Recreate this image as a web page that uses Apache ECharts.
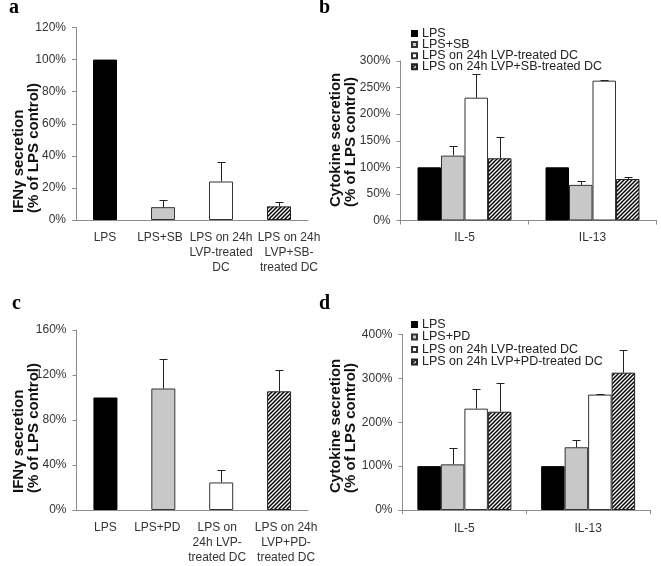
<!DOCTYPE html>
<html>
<head>
<meta charset="utf-8">
<script src="https://cdn.jsdelivr.net/npm/echarts@6/dist/echarts.min.js"></script>
<style>
html,body{margin:0;padding:0;background:#fff;}
#chart{width:661px;height:566px;}
</style>
</head>
<body>
<div id="chart"></div>
<script>
// ---------- data ----------
const catsA = ['LPS', 'LPS+SB', 'LPS on 24h\nLVP-treated\nDC', 'LPS on 24h\nLVP+SB-\ntreated DC'];
const valsA = [100, 8, 24, 8.5];
const errA  = [0, 4.2, 12, 2.5];
const yTicksA = [0, 20, 40, 60, 80, 100, 120];

const catsC = ['LPS', 'LPS+PD', 'LPS on\n24h LVP-\ntreated DC', 'LPS on 24h\nLVP+PD-\ntreated DC'];
const valsC = [100, 108, 24.5, 105.5];
const errC  = [0, 26.5, 11.5, 19];
const yTicksC = [0, 40, 80, 120, 160];

const cytokines = ['IL-5', 'IL-13'];

const namesB = ['LPS', 'LPS+SB', 'LPS on 24h LVP-treated DC', 'LPS on 24h LVP+SB-treated DC'];
const bLps   = [100, 100];
const bSb    = [122, 67];
const bLvp   = [231, 263];
const bLvpSb = [117, 78];
const bLpsErr   = [0, 0];
const bSbErr    = [17.5, 6.5];
const bLvpErr   = [45, 1.5];
const bLvpSbErr = [39.5, 4.5];
const yTicksB = [0, 50, 100, 150, 200, 250, 300];

const namesD = ['LPS', 'LPS+PD', 'LPS on 24h LVP-treated DC', 'LPS on 24h LVP+PD-treated DC'];
const dLps   = [100, 100];
const dPd    = [104, 143];
const dLvp   = [231, 263];
const dLvpPd = [224, 313];
const dLpsErr   = [0, 0];
const dPdErr    = [37, 16];
const dLvpErr   = [45, 1.5];
const dLvpPdErr = [65, 52];
const yTicksD = [0, 100, 200, 300, 400];

// ---------- styles ----------
const FONT = 'Liberation Sans';
const AXIS_COLOR = '#8c8c8c';
const TEXT_COLOR = '#333';

function hatchCanvas() {
  const c = document.createElement('canvas');
  c.width = 4; c.height = 4;
  const g = c.getContext('2d');
  g.fillStyle = '#fff'; g.fillRect(0, 0, 4, 4);
  g.strokeStyle = '#000'; g.lineWidth = 1.5;
  g.beginPath();
  g.moveTo(0, 4); g.lineTo(4, 0);
  g.moveTo(-1, 1); g.lineTo(1, -1);
  g.moveTo(3, 5); g.lineTo(5, 3);
  g.stroke();
  return c;
}
const HATCH = { image: hatchCanvas(), repeat: 'repeat' };
const FILLS = ['#000', '#c8c8c8', '#fff', HATCH];
const BORDERS = ['#000', '#333', '#333', '#222'];

function yAx(idx, ticks) {
  return {
    type: 'value', gridIndex: idx,
    min: ticks[0], max: ticks[ticks.length - 1], interval: ticks[1] - ticks[0],
    axisLine: { show: true, lineStyle: { color: AXIS_COLOR, width: 1 } },
    axisTick: { show: true, length: 4, lineStyle: { color: AXIS_COLOR } },
    splitLine: { show: false },
    axisLabel: { formatter: '{value}%', fontFamily: FONT, fontSize: 12, color: TEXT_COLOR, margin: 10 }
  };
}
function shiftPad(d) { return d >= 0 ? [0, 0, 0, 2 * d] : [0, -2 * d, 0, 0]; }
function xAx(idx, cats, shifts, ticks, margin) {
  return {
    type: 'category', gridIndex: idx,
    data: cats.map((c, i) => shifts ? ({ value: c, textStyle: { padding: shiftPad(shifts[i]) } }) : c),
    axisLine: { show: true, lineStyle: { color: AXIS_COLOR, width: 1 } },
    axisTick: { show: ticks, length: 4, lineStyle: { color: AXIS_COLOR } },
    axisLabel: { interval: 0, fontFamily: FONT, fontSize: 12, color: TEXT_COLOR, margin: margin, lineHeight: 15 }
  };
}

function errSeries(idx, vals, errs, offset) {
  return {
    type: 'custom', xAxisIndex: idx, yAxisIndex: idx, z: 5, silent: true,
    encode: { x: 0, y: [1, 2] },
    data: vals.map((v, i) => [i, v, v + errs[i]]),
    renderItem: function (params, api) {
      const v = api.value(1), t = api.value(2);
      if (!(t > v)) return null;
      const p0 = api.coord([api.value(0), v]);
      const p1 = api.coord([api.value(0), t]);
      const x = Math.round(p0[0] + offset) + 0.5;
      const yt = Math.round(p1[1]) + 0.5;
      return {
        type: 'group', children: [
          { type: 'line', shape: { x1: x, y1: p0[1], x2: x, y2: yt }, style: { stroke: '#222', lineWidth: 1 } },
          { type: 'line', shape: { x1: x - 4, y1: yt, x2: x + 4, y2: yt }, style: { stroke: '#222', lineWidth: 1 } }
        ]
      };
    }
  };
}

function singleBar(idx, vals) {
  return {
    type: 'bar', name: 'panel' + idx, xAxisIndex: idx, yAxisIndex: idx, barWidth: 24,
    data: vals.map((v, i) => ({ value: v, itemStyle: { color: FILLS[i], borderColor: BORDERS[i], borderWidth: 1 } })),
    silent: true
  };
}
const BW = 23.5;
function groupBars(idx, names, arrs) {
  return arrs.map((a, k) => ({
    type: 'bar', name: names[k], xAxisIndex: idx, yAxisIndex: idx,
    barWidth: BW, barGap: '0%',
    itemStyle: { color: FILLS[k], borderColor: BORDERS[k], borderWidth: 1 },
    data: a, silent: true
  }));
}
function groupErrs(idx, vals, errs) {
  return vals.map((v, k) => errSeries(idx, v, errs[k], (k - 1.5) * BW));
}

function legendAt(names, top, gap) {
  return {
    data: names, orient: 'vertical', left: 411, top: top,
    itemWidth: 5, itemHeight: 5, itemGap: gap, icon: 'rect', selectedMode: false,
    padding: 0,
    textStyle: { fontFamily: FONT, fontSize: 12.5, lineHeight: 10, color: '#222' }
  };
}

function ytitle(x, y, text) {
  return {
    type: 'text', x: x, y: y, rotation: Math.PI / 2,
    style: { text: text, font: 'bold 15px "Liberation Sans"', fill: '#111', align: 'left', verticalAlign: 'middle', lineHeight: 15 }
  };
}
function letter(x, y, t) {
  return { type: 'text', x: x, y: y, style: { text: t, font: 'bold 20px "Liberation Serif"', fill: '#000', align: 'left', verticalAlign: 'bottom' } };
}

const option = {
  animation: false,
  backgroundColor: '#fff',
  grid: [
    { left: 76, top: 27.5, width: 232, height: 192.5 },
    { left: 400.5, top: 61, width: 256, height: 159.5 },
    { left: 76.5, top: 330, width: 231.5, height: 180 },
    { left: 402.5, top: 334.5, width: 247.5, height: 175.5 }
  ],
  xAxis: [
    xAx(0, catsA, [0, -3, 0, 10], false, 10),
    xAx(1, cytokines, null, true, 10),
    xAx(2, catsC, [0, -6, -4, 7], false, 10),
    xAx(3, cytokines, null, true, 11)
  ],
  yAxis: [yAx(0, yTicksA), yAx(1, yTicksB), yAx(2, yTicksC), yAx(3, yTicksD)],
  legend: [legendAt(namesB, 27, -1.9), legendAt(namesD, 318, -0.5)],
  graphic: [
    ytitle(26.5, 213, 'IFNγ secretion\n(% of LPS control)'),
    ytitle(343.5, 207, 'Cytokine secretion\n(% of LPS control)'),
    ytitle(26.5, 493, 'IFNγ secretion\n(% of LPS control)'),
    ytitle(343.5, 493, 'Cytokine secretion\n(% of LPS control)'),
    letter(9, 18, 'a'),
    letter(319, 18, 'b'),
    letter(12, 314, 'c'),
    letter(319, 314, 'd')
  ],
  series: [].concat(
    [singleBar(0, valsA), errSeries(0, valsA, errA, 0)],
    groupBars(1, namesB, [bLps, bSb, bLvp, bLvpSb]),
    groupErrs(1, [bLps, bSb, bLvp, bLvpSb], [bLpsErr, bSbErr, bLvpErr, bLvpSbErr]),
    [singleBar(2, valsC), errSeries(2, valsC, errC, 0)],
    groupBars(3, namesD, [dLps, dPd, dLvp, dLvpPd]),
    groupErrs(3, [dLps, dPd, dLvp, dLvpPd], [dLpsErr, dPdErr, dLvpErr, dLvpPdErr])
  )
};

const chart = echarts.init(document.getElementById('chart'), null, { renderer: 'canvas' });
chart.setOption(option);
</script>
</body>
</html>
